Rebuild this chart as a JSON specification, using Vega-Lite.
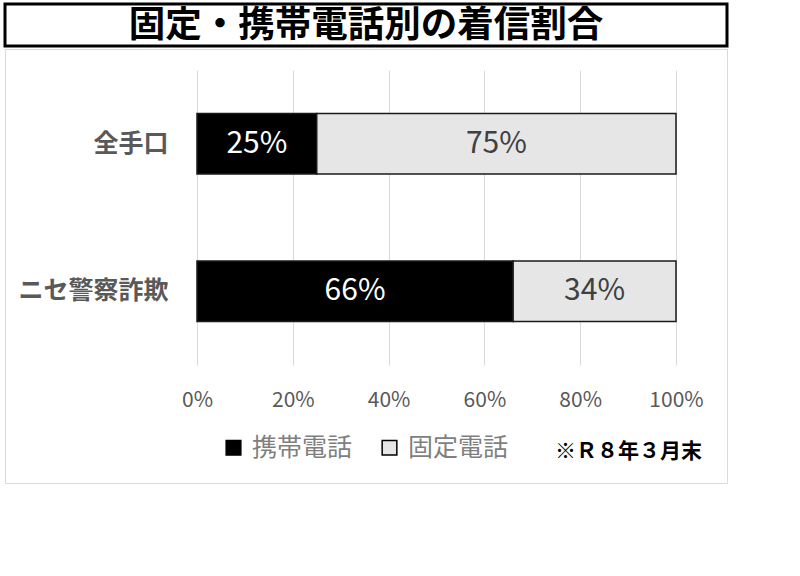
{
  "$schema": "https://vega.github.io/schema/vega-lite/v6.json",
  "padding": {"left": 3, "top": 2, "right": 2, "bottom": 2},
  "background": "white",
  "spacing": 0,
  "config": {"font": "Noto Sans CJK JP"},
  "vconcat": [
    {
      "width": 722,
      "height": 42,
      "view": {"stroke": "black", "strokeWidth": 3},
      "data": {"values": [{"t": "固定・携帯電話別の着信割合"}]},
      "mark": {"type": "text", "fontSize": 36.5, "fontWeight": "bold", "color": "black", "font": "Noto Sans CJK JP", "dy": 1},
      "encoding": {"text": {"field": "t", "type": "nominal"}}
    },
    {
      "width": 722,
      "height": 434,
      "view": {"stroke": "#d9d9d9", "strokeWidth": 1},
      "title": {"text": "※Ｒ８年３月末", "orient": "bottom", "anchor": "end", "frame": "group", "offset": -42, "dx": -25, "fontSize": 21, "fontWeight": "bold", "color": "black", "font": "Noto Sans CJK JP"},
      "data": {"values": [
        {"cat": "全手口", "type": "携帯電話", "value": 0.25},
        {"cat": "全手口", "type": "固定電話", "value": 0.75},
        {"cat": "ニセ警察詐欺", "type": "携帯電話", "value": 0.66},
        {"cat": "ニセ警察詐欺", "type": "固定電話", "value": 0.34}
      ]},
      "encoding": {
        "y": {"field": "cat", "type": "nominal", "sort": ["全手口", "ニセ警察詐欺"],
          "scale": {"range": [21, 316], "paddingInner": 0.59, "paddingOuter": 0.295},
          "axis": {"title": null, "offset": -192, "domain": false, "ticks": false, "labelPadding": 29, "labelFontSize": 25, "labelFontWeight": "bold", "labelColor": "#595959", "grid": false}},
        "x": {"field": "value", "type": "quantitative", "stack": "zero",
          "scale": {"domain": [0, 1], "range": [192, 671], "nice": false}},
        "order": {"field": "type", "sort": "descending"}
      },
      "layer": [
        {
          "mark": {"type": "bar", "stroke": "#1a1a1a", "strokeWidth": 1.5},
          "encoding": {
            "x": {"field": "value", "type": "quantitative", "stack": "zero",
              "axis": {"orient": "top", "title": null, "values": [0, 0.2, 0.4, 0.6, 0.8, 1], "labels": false, "domain": false, "ticks": false, "grid": true, "gridColor": "#d9d9d9", "gridWidth": 1}},
            "color": {"field": "type", "type": "nominal",
              "scale": {"domain": ["携帯電話", "固定電話"], "range": ["#000000", "#e6e6e6"]},
              "legend": {"orient": "none", "legendX": 216, "legendY": 431, "direction": "horizontal", "title": null, "symbolType": "square", "symbolSize": 215, "symbolStrokeColor": "black", "symbolStrokeWidth": 1.5, "labelFontSize": 25, "labelColor": "#7f7f7f", "columnPadding": 24, "labelOffset": 6}}
          }
        },
        {
          "mark": {"type": "text", "fontSize": 30},
          "encoding": {
            "x": {"field": "value", "type": "quantitative", "stack": "zero", "bandPosition": 0.5,
              "axis": {"orient": "bottom", "title": null, "values": [0, 0.2, 0.4, 0.6, 0.8, 1], "format": ".0%", "offset": -96, "domain": false, "ticks": false, "labelPadding": 2, "labelFontSize": 21, "labelColor": "#595959", "labelFlush": false, "labelOverlap": false, "labelBound": false, "grid": false}},
            "text": {"field": "value", "type": "quantitative", "format": ".0%"},
            "color": {"condition": {"test": "datum.type === '携帯電話'", "value": "white"}, "value": "#404040"}
          }
        }
      ],
      "resolve": {"axis": {"x": "independent"}}
    }
  ]
}
